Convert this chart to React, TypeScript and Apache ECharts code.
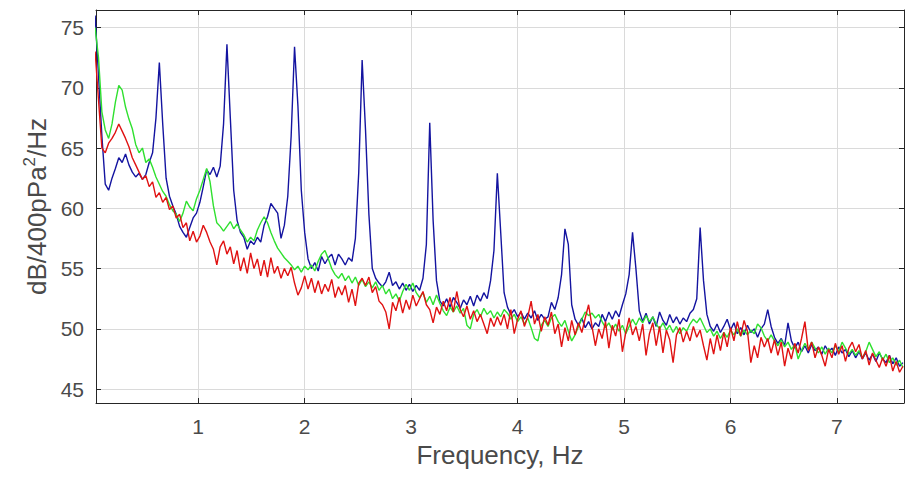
import React, { useEffect, useRef } from "react";
import * as echarts from "echarts";

// Spectral bin width (Hz) of the PSD estimate; bin i sits at i * FREQ_STEP
const FREQ_STEP = 0.03175;

const X_MIN = 0.04;
const X_MAX = 7.63;
const Y_MIN = 43.85;
const Y_MAX = 76.45;
const X_TICKS = [1, 2, 3, 4, 5, 6, 7];
const Y_TICKS = [45, 50, 55, 60, 65, 70, 75];

const BLUE = [
  76.0, 71.0, 66.0, 62.0, 61.5, 62.5, 63.3, 64.2, 63.8, 64.5,
  63.6, 63.0, 62.6, 62.9, 62.4, 62.8, 63.8, 64.6, 67.5, 72.1,
  67.0, 62.5, 61.0, 60.2, 59.5, 58.5, 58.0, 57.6, 58.4, 59.2,
  59.6, 60.5, 61.8, 63.2, 62.8, 63.4, 62.6, 63.5, 67.0, 73.6,
  67.5, 61.5, 59.0, 58.0, 57.6, 56.6, 57.3, 57.0, 57.6, 57.2,
  58.6, 59.3, 60.4, 60.0, 59.6, 57.5, 58.6, 61.0, 66.0, 73.4,
  68.5, 61.5, 58.0, 55.8, 55.0, 55.5, 54.8, 56.0, 55.4, 55.9,
  56.2, 55.3, 56.2, 55.8, 55.3, 55.9, 55.6, 57.5, 63.0, 72.3,
  66.5, 59.5, 55.0, 54.2, 53.8, 53.5, 53.9, 54.7, 53.6, 53.9,
  53.3, 53.8, 53.2, 53.7, 53.1, 53.6, 53.2, 54.2, 57.0, 67.1,
  59.0, 54.0, 52.3, 51.9, 52.5, 51.8, 52.6, 52.2, 51.7, 52.4,
  52.0, 52.7, 51.9, 52.8, 52.3, 53.0, 52.5, 54.0, 56.5, 62.9,
  58.0, 53.0, 51.8, 51.2, 51.6, 51.0, 51.4, 50.8, 51.3, 50.9,
  51.5, 50.7, 51.2, 50.8, 51.0, 52.2, 51.6, 52.6, 54.5, 58.3,
  57.0, 52.0, 50.8, 50.3, 50.9, 50.1, 50.6, 50.0, 50.5, 50.2,
  51.2, 50.6, 51.4, 50.8, 51.5, 51.0, 52.0, 52.9, 54.5, 58.0,
  55.0, 51.5, 50.6, 51.3, 50.4, 51.0, 50.2, 51.4, 50.7, 50.3,
  51.2, 50.5, 51.0, 50.4, 50.9, 50.6, 51.3, 51.6, 52.5, 58.4,
  54.0, 51.2, 50.2, 49.8, 50.4, 49.7, 50.2, 50.8, 49.9, 50.5,
  49.6, 50.1, 49.5, 50.3, 49.7, 50.0, 49.3, 50.0, 50.4, 51.6,
  50.2, 49.3, 48.8, 49.2, 48.6, 50.5, 49.0, 48.4, 48.9, 48.1,
  48.6, 48.0, 48.7, 48.2, 48.5, 47.9, 48.6, 48.1, 48.4, 47.8,
  48.5, 48.0, 48.3, 47.7, 48.2, 47.6, 48.1, 47.5, 48.0, 47.4,
  47.9, 47.3, 48.0, 47.5, 47.2, 47.8, 47.1, 47.6, 46.9, 47.2,
];

const GREEN = [
  75.0, 72.5, 68.0, 66.5, 65.8, 67.0, 68.8, 70.2, 69.8, 68.4,
  67.4, 66.6, 65.3, 64.6, 65.0, 63.8, 64.1, 63.4, 62.6, 62.0,
  61.4, 61.0, 60.3, 59.8, 59.5, 58.9, 59.6, 60.6, 60.1, 59.8,
  60.8, 61.5, 62.4, 63.3, 62.2, 60.2, 58.8, 58.5, 58.1, 58.5,
  58.9, 58.3, 58.7, 58.2, 57.8, 57.2, 57.6, 57.3, 58.2, 58.8,
  59.3, 58.8, 58.0, 57.3, 56.7, 56.3, 55.9, 55.6, 55.3, 54.9,
  55.2, 54.7, 55.2, 54.9, 55.3, 54.8, 55.6, 56.2, 56.5, 55.8,
  55.0, 54.5, 54.2, 54.6, 54.0, 54.4, 53.8, 54.3, 53.6, 54.1,
  53.5, 53.9, 53.4, 53.9, 53.2, 53.6, 52.9, 53.3, 52.5, 52.9,
  52.3, 53.1, 53.7, 53.2, 53.8, 53.0, 52.6, 53.0, 52.2, 52.7,
  52.0, 52.8, 52.1, 51.5, 51.1, 51.8, 51.4, 51.9, 51.3, 51.7,
  50.3, 50.0, 51.2, 51.6, 51.0, 51.7, 51.2, 51.5, 50.9, 51.4,
  51.0, 51.6, 51.3, 50.8, 51.2, 50.6, 51.0, 50.4, 50.9, 50.1,
  49.2, 49.0, 50.3, 50.7, 50.2, 50.9, 51.2, 50.6, 50.2, 50.7,
  49.8, 49.0, 49.5, 50.2, 50.8, 51.4, 51.1, 51.3, 50.9, 51.2,
  50.6, 50.1, 50.5, 49.9, 50.4, 49.8, 50.3, 49.6, 50.2, 50.8,
  50.3, 50.9, 50.5, 51.1, 50.6, 51.0, 50.4, 50.0, 50.5, 49.9,
  50.3, 49.7, 50.2, 49.6, 50.1, 49.8, 50.4, 50.8, 50.5, 50.9,
  50.3, 49.7, 50.0, 49.4, 49.8, 49.2, 49.7, 49.3, 49.9, 49.5,
  50.0, 49.4, 49.9, 49.5, 49.9, 49.6, 50.4, 50.1, 49.4, 49.0,
  49.5, 49.0, 48.6, 49.1, 48.5, 48.9, 48.3, 48.7, 47.5, 48.2,
  48.8, 48.3, 48.9, 48.4, 48.0, 48.5, 47.9, 48.4, 48.0, 48.6,
  48.1, 48.9, 48.4, 47.9, 48.3, 47.8, 48.2, 47.6, 48.1, 48.9,
  48.3, 47.7, 48.1, 47.4, 47.9, 47.2, 47.6, 47.0, 47.4, 46.8,
];

const RED = [
  73.0, 69.0, 65.0, 64.6, 65.4, 65.8, 66.3, 67.0, 66.4, 65.8,
  65.1, 64.2, 63.6, 63.0, 62.4, 62.7, 61.8, 62.2, 60.9, 61.3,
  60.5, 60.9, 59.9, 60.2, 59.2, 59.5, 58.4, 58.8, 57.3, 58.1,
  57.2, 57.7, 58.6, 58.0, 57.2, 56.6, 55.3, 56.8, 57.3, 56.2,
  56.8, 55.4, 56.5, 54.8, 55.9, 54.6, 56.3, 55.0, 55.8, 54.4,
  55.7, 54.3, 55.9, 54.6, 55.2, 54.2, 55.0, 54.4, 55.1, 53.8,
  52.8, 53.4, 54.4, 53.3, 54.2, 53.0, 54.0, 52.9, 53.7, 53.1,
  54.1, 52.6, 53.5, 52.8, 53.6, 52.2, 53.3, 51.9, 53.8, 54.2,
  53.6, 54.3, 53.0, 53.5, 52.3, 52.0, 51.4, 50.0, 52.2, 51.5,
  52.6, 51.3, 52.4, 51.6, 52.8, 51.9, 52.5, 53.1, 52.0, 51.6,
  50.5, 51.8, 51.2, 52.3, 51.5, 52.6, 51.4, 53.1, 51.6, 51.0,
  51.9, 50.8, 51.5, 50.6, 51.2, 50.4, 49.6, 50.9, 50.2, 51.0,
  50.3, 51.2, 50.0, 51.6, 49.6, 50.8, 51.5, 50.2, 51.0, 52.3,
  50.4, 51.2, 49.8, 51.0, 50.3, 51.4, 49.6, 50.4, 48.5, 50.1,
  49.0, 50.7, 49.5, 50.5, 49.7, 50.9, 52.0, 50.2, 48.6, 50.0,
  49.2, 50.6, 48.4, 50.3, 49.4, 50.8, 48.1, 49.7, 50.9, 49.5,
  50.2, 49.0, 50.4, 47.8, 49.6, 50.5, 48.6, 50.2, 48.0, 49.9,
  49.1, 47.2, 49.5, 50.1, 48.9, 49.8, 49.0, 50.2, 49.3, 49.9,
  48.6, 47.4, 49.2, 47.9, 49.5, 48.2, 49.7, 48.5, 50.1, 49.0,
  50.6, 49.4, 50.7, 49.8, 47.2, 48.6, 47.6, 49.3, 48.5, 49.2,
  48.0, 49.1, 47.8, 48.9, 46.9, 48.4, 47.5, 48.8, 48.0, 49.2,
  50.6, 48.2, 48.9, 47.6, 48.5, 47.8, 46.9, 48.3, 47.6, 48.8,
  47.9, 48.6, 47.3, 48.4, 48.9, 48.1, 48.7, 47.5, 48.2, 47.0,
  48.0, 47.4, 46.8, 47.6, 46.9, 47.8, 46.5, 47.3, 46.4, 46.9,
];

const FONT = "'Liberation Sans', Arial, Helvetica, sans-serif";
const AXIS_COLOR = "#262626";
const TEXT_COLOR = "#4a4a4a";
const GRID_COLOR = "#dadada";

const toPairs = (vals: number[]) => vals.map((v, i) => [(i + 1) * FREQ_STEP, v]);
const isTick = (v: number, ticks: number[]) => ticks.some((t) => Math.abs(t - v) < 1e-6);

export default function App() {
  const ref = useRef<HTMLDivElement>(null);

  useEffect(() => {
    if (!ref.current) return;
    const chart = echarts.init(ref.current, null, { renderer: "svg" });

    const baseTick = { inside: true, length: 5, lineStyle: { color: AXIS_COLOR, width: 1 } };
    const baseLine = { show: true, onZero: false, lineStyle: { color: AXIS_COLOR, width: 1 } };

    chart.setOption({
      animation: false,
      backgroundColor: "#ffffff",
      grid: { left: 96, right: 8, top: 10, bottom: 74, containLabel: false },
      xAxis: [
        {
          type: "value",
          min: X_MIN,
          max: X_MAX,
          splitNumber: 8,
          axisLine: baseLine,
          axisTick: baseTick,
          axisLabel: {
            margin: 13,
            fontSize: 21,
            color: TEXT_COLOR,
            fontFamily: FONT,
            showMinLabel: false,
            showMaxLabel: false,
            formatter: (v: number) => (isTick(v, X_TICKS) ? String(Math.round(v)) : ""),
          },
          splitLine: { show: true, lineStyle: { color: GRID_COLOR, width: 1 } },
          name: "Frequency, Hz",
          nameLocation: "middle",
          nameGap: 35,
          nameTextStyle: { fontSize: 26, color: TEXT_COLOR, fontFamily: FONT },
        },
        {
          type: "value",
          position: "top",
          min: X_MIN,
          max: X_MAX,
          splitNumber: 8,
          axisLine: baseLine,
          axisTick: baseTick,
          axisLabel: { show: false },
          splitLine: { show: false },
        },
      ],
      yAxis: [
        {
          type: "value",
          min: Y_MIN,
          max: Y_MAX,
          splitNumber: 7,
          axisLine: baseLine,
          axisTick: baseTick,
          axisLabel: {
            margin: 12,
            fontSize: 21,
            color: TEXT_COLOR,
            fontFamily: FONT,
            showMinLabel: false,
            showMaxLabel: false,
            formatter: (v: number) => (isTick(v, Y_TICKS) ? String(Math.round(v)) : ""),
          },
          splitLine: { show: true, lineStyle: { color: GRID_COLOR, width: 1 } },
          name: "{a|dB/400pPa}{s|2}{a|/Hz}",
          nameLocation: "middle",
          nameGap: 40,
          nameTextStyle: {
            color: TEXT_COLOR,
            fontFamily: FONT,
            rich: {
              a: { fontSize: 26, lineHeight: 32, color: TEXT_COLOR, fontFamily: FONT },
              s: { fontSize: 17, lineHeight: 17, verticalAlign: "top", color: TEXT_COLOR, fontFamily: FONT },
            },
          },
        },
        {
          type: "value",
          position: "right",
          min: Y_MIN,
          max: Y_MAX,
          splitNumber: 7,
          axisLine: baseLine,
          axisTick: baseTick,
          axisLabel: { show: false },
          splitLine: { show: false },
        },
      ],
      series: [
        {
          name: "blue",
          type: "line",
          data: toPairs(BLUE),
          showSymbol: false,
          symbol: "none",
          lineStyle: { color: "#1414a0", width: 1.4 },
          xAxisIndex: 0,
          yAxisIndex: 0,
          clip: true,
        },
        {
          name: "green",
          type: "line",
          data: toPairs(GREEN),
          showSymbol: false,
          symbol: "none",
          lineStyle: { color: "#2fe02f", width: 1.4 },
          xAxisIndex: 0,
          yAxisIndex: 0,
          clip: true,
        },
        {
          name: "red",
          type: "line",
          data: toPairs(RED),
          showSymbol: false,
          symbol: "none",
          lineStyle: { color: "#e01212", width: 1.4 },
          xAxisIndex: 0,
          yAxisIndex: 0,
          clip: true,
        },
      ],
    });

    return () => chart.dispose();
  }, []);

  return (
    <div
      ref={ref}
      style={{ position: "fixed", left: 0, top: 0, width: 912, height: 477, background: "#ffffff" }}
    />
  );
}
